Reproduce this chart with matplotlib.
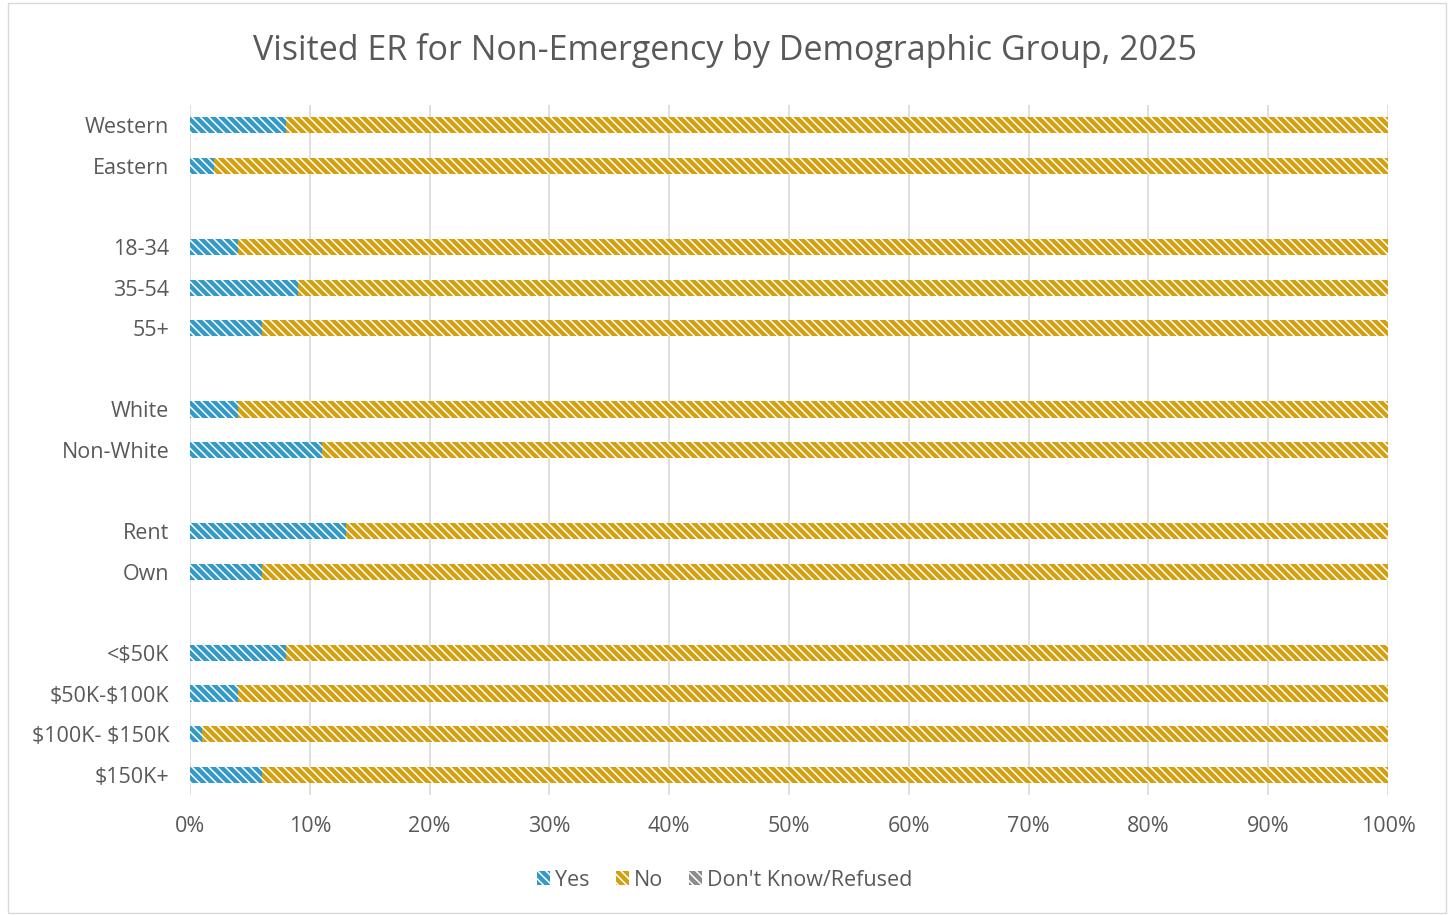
import numpy as np
import matplotlib.pyplot as plt
from matplotlib.patches import Patch, Rectangle

plt.rcParams['font.family'] = ['Open Sans', 'DejaVu Sans']
plt.rcParams['hatch.linewidth'] = 1.1

# Donnees (blancs = separateurs de groupes)
categories = ['Western', 'Eastern', '',
              '18-34', '35-54', '55+', '',
              'White', 'Non-White', '',
              'Rent', 'Own', '',
              r'<\$50K', r'\$50K-\$100K', r'\$100K- \$150K', r'\$150K+']
yes = [8, 2, 0, 4, 9, 6, 0, 4, 11, 0, 13, 6, 0, 8, 4, 1, 6]
no = [92, 98, 0, 96, 91, 94, 0, 96, 89, 0, 87, 94, 0, 92, 96, 99, 94]
dk = [0, 0, 0, 0, 0, 0, 0, 0, 0, 0, 0, 0, 0, 0, 0, 0, 0]

c_yes = '#3399C6'
c_no = '#D4A010'
c_dk = '#8C8C8C'
text_col = '#595959'
hatch = '\\\\\\\\'

fig = plt.figure(figsize=(14.5, 9.15), dpi=100)
ax = fig.add_axes([190/1450, 1 - 795/915, (1388-190)/1450, (795-105)/915])

y = np.arange(len(categories))
h = 0.4
yes = np.array(yes, dtype=float)
no = np.array(no, dtype=float)
dk = np.array(dk, dtype=float)

ax.barh(y, yes, height=h, color=c_yes, edgecolor='white', linewidth=0, hatch=hatch, zorder=3)
ax.barh(y, no, left=yes, height=h, color=c_no, edgecolor='white', linewidth=0, hatch=hatch, zorder=3)
ax.barh(y, dk, left=yes + no, height=h, color=c_dk, edgecolor='white', linewidth=0, hatch=hatch, zorder=3)

ax.set_ylim(len(categories) - 0.5, -0.5)
ax.set_xlim(0, 100)
ax.set_yticks(y)
ax.set_yticklabels(categories, fontsize=15.5, color=text_col)
ax.set_xticks(np.arange(0, 101, 10))
ax.set_xticklabels([f'{v}%' for v in range(0, 101, 10)], fontsize=15.5, color=text_col)
ax.tick_params(axis='y', length=0, pad=15)
ax.tick_params(axis='x', length=0, pad=15)
ax.grid(axis='x', color='#D9D9D9', linewidth=1.2, zorder=0)
for s in ax.spines.values():
    s.set_visible(False)

fig.text(0.5, 1 - 50/915, 'Visited ER for Non-Emergency by Demographic Group, 2025',
         ha='center', va='center', fontsize=24.5, color=text_col)

handles = [Patch(facecolor=c_yes, edgecolor='white', linewidth=0, hatch=hatch, label='Yes'),
           Patch(facecolor=c_no, edgecolor='white', linewidth=0, hatch=hatch, label='No'),
           Patch(facecolor=c_dk, edgecolor='white', linewidth=0, hatch=hatch, label="Don't Know/Refused")]
leg = fig.legend(handles=handles, loc='center', bbox_to_anchor=(0.5, 1 - 880/915), ncol=3,
                 frameon=False, fontsize=15.5, handlelength=0.6, handleheight=0.6,
                 handletextpad=0.25, columnspacing=1.2)
for t in leg.get_texts():
    t.set_color(text_col)

# cadre du graphique
fig.patches.append(Rectangle((8/1450, 2/915), 1438/1450, 910/915, transform=fig.transFigure,
                             fill=False, edgecolor='#D9D9D9', linewidth=1))

fig.savefig('out.png', dpi=100)
